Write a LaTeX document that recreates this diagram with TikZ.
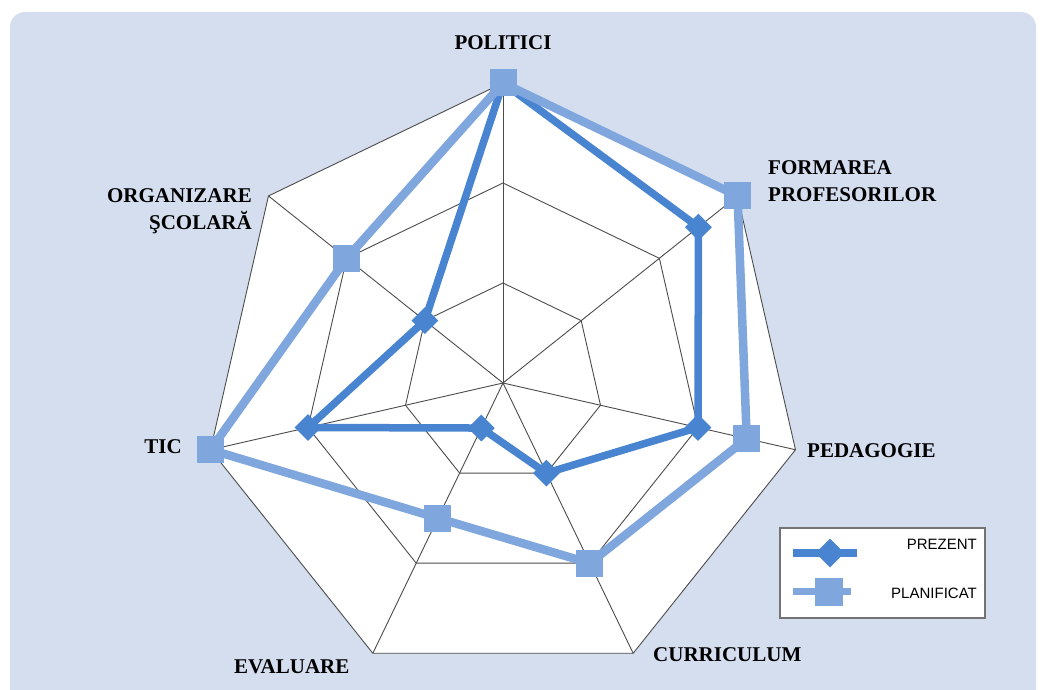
\documentclass[tikz,border=0pt]{standalone}
\usepackage{fontspec}
\setmainfont{Liberation Serif}
\setsansfont{Liberation Sans}
\usetikzlibrary{shapes.geometric}
\definecolor{bgblue}{HTML}{D5DEEF}
\definecolor{prezentblue}{HTML}{4884D0}
\definecolor{planblue}{HTML}{80A6DE}
\begin{document}
\begin{tikzpicture}[x=1pt, y=1pt,
    gridline/.style={draw=black!70, line width=0.9pt},
    axislabel/.style={font=\bfseries\fontsize{21}{27}\selectfont, inner sep=0pt},
    prezentline/.style={prezentblue, line width=7.5pt, line join=round},
    planline/.style={planblue, line width=8.5pt, line join=round},
    diamondmark/.style={diamond, fill=prezentblue, minimum size=27pt, inner sep=0pt},
    squaremark/.style={rectangle, fill=planblue, minimum size=27pt, inner sep=0pt},
    legendtext/.style={font=\sffamily\fontsize{15}{17}\selectfont, anchor=east, inner sep=0pt}]
  \useasboundingbox (0, 0) rectangle (1042, 690);
  \fill [white] (0, 0) rectangle (1042, 690);
  \fill [bgblue, rounded corners=15pt] (10, -20) rectangle (1036, 678);
  \begin{scope}[shift={(503, 307)}]
    \fill [white] (90:300) \foreach \k in {1,...,6} { -- ({90-\k*360/7}:300) } -- cycle;
    \foreach \r in {100, 200, 300}
      \draw [gridline] (90:\r) \foreach \k in {1,...,6} { -- ({90-\k*360/7}:\r) } -- cycle;
    \foreach \k in {0,...,6}
      \draw [gridline] (0, 0) -- ({90-\k*360/7}:300);
    \foreach \v [count=\k from 0] in {3, 2.5, 2, 1, 0.5, 2, 1}
      \coordinate (pz\k) at ({90-\k*360/7}:{\v*100});
    \foreach \v [count=\k from 0] in {3, 3, 2.5, 2, 1.5, 3, 2}
      \coordinate (pl\k) at ({90-\k*360/7}:{\v*100});
    \draw [prezentline] (pz0) \foreach \k in {1,...,6} { -- (pz\k) } -- cycle;
    \foreach \k in {0,...,6}
      \node [diamondmark] (pzm\k) at (pz\k) {};
    \draw [planline] (pl0) \foreach \k in {1,...,6} { -- (pl\k) } -- cycle;
    \foreach \k in {0,...,6}
      \node [squaremark] (plm\k) at (pl\k) {};
  \end{scope}
  \node [axislabel] (politici) at (503, 647) {POLITICI};
  \node [axislabel, anchor=west, align=left] (formarea) at (768, 508.5) {FORMAREA\\PROFESORILOR};
  \node [axislabel, anchor=west] (pedagogie) at (807, 239) {PEDAGOGIE};
  \node [axislabel, anchor=west] (curriculum) at (653, 35) {CURRICULUM};
  \node [axislabel, anchor=west] (evaluare) at (234, 23) {EVALUARE};
  \node [axislabel, anchor=east] (tic) at (182, 243) {TIC};
  \node [axislabel, anchor=east, align=right] (organizare) at (252, 478.5) {ORGANIZARE\\ŞCOLARĂ};
  \draw [draw=black!55, fill=white, line width=1.2pt] (780, 72) rectangle (985, 162);
  \coordinate (lzl) at (793, 137);
  \coordinate (lzr) at (857, 137);
  \coordinate (lpl) at (793, 98);
  \coordinate (lpr) at (851, 98);
  \draw [prezentline] (lzl) -- (lzr);
  \node [diamondmark, minimum size=29pt] (lzm) at (830, 137) {};
  \draw [planline, line width=7pt] (lpl) -- (lpr);
  \node [squaremark, minimum size=28pt] (lpm) at (829, 98) {};
  \node [legendtext] (lzt) at (977, 145.5) {PREZENT};
  \node [legendtext] (lpt) at (977, 97) {PLANIFICAT};
\end{tikzpicture}
\end{document}
